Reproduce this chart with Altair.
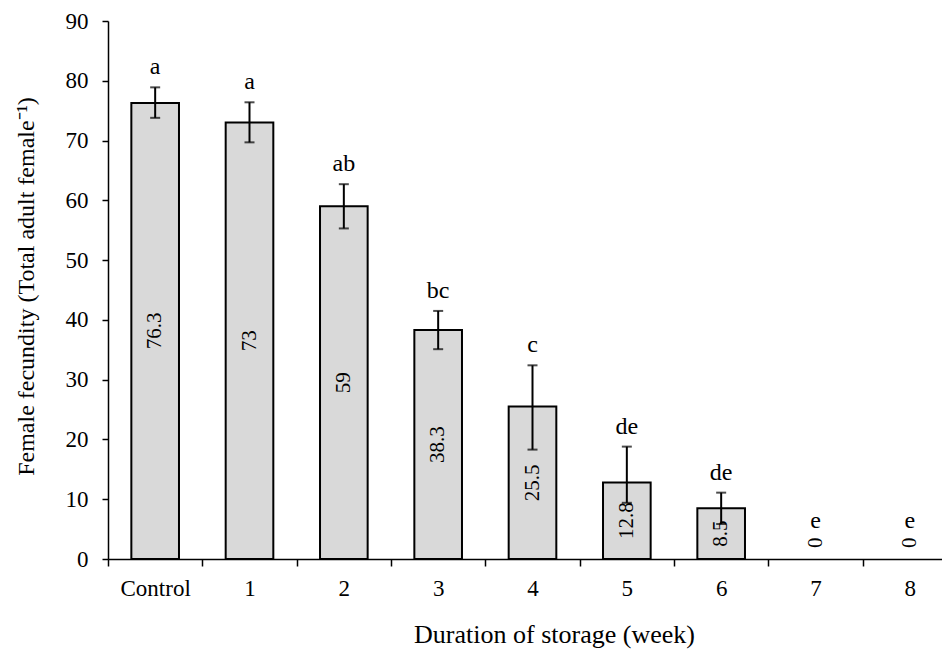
import altair as alt
import pandas as pd

categories = ["Control", "1", "2", "3", "4", "5", "6", "7", "8"]
means = [76.3, 73, 59, 38.3, 25.5, 12.8, 8.5, 0, 0]
err_upper = [78.9, 76.4, 62.7, 41.5, 32.4, 18.8, 11.1, None, None]
err_lower = [73.8, 69.7, 55.3, 35.1, 18.3, 9.4, 5.85, None, None]
letters = ["a", "a", "ab", "bc", "c", "de", "de", "e", "e"]
value_labels = ["76.3", "73", "59", "38.3", "25.5", "12.8", "8.5", "0", "0"]

df = pd.DataFrame({
    "cat": categories,
    "mean": means,
    "upper": err_upper,
    "lower": err_lower,
    "letter": letters,
    "vlabel": value_labels,
})

FONT = "Liberation Serif"

x_enc = alt.X(
    "cat:N",
    sort=categories,
    scale=alt.Scale(range=[0, 849], paddingInner=0, paddingOuter=0),
    axis=alt.Axis(
        title="Duration of storage (week)",
        labelAngle=0,
        tickBand="extent",
        domainColor="black", domainWidth=1.5,
        tickColor="black", tickWidth=1.5, tickSize=7,
        labelFont=FONT, labelFontSize=23, labelColor="black", labelPadding=11,
        titleFont=FONT, titleFontSize=26, titleFontWeight="normal", titleColor="black",
        titleX=446, titleY=83, titleAlign="center", titleBaseline="alphabetic",
    ),
)

y_scale = alt.Scale(domain=[0, 90], nice=False)

base = alt.Chart(df)

bars = base.transform_filter("datum.mean > 0").mark_bar(
    width=alt.RelativeBandSize(0.505), color="#d9d9d9", stroke="black", strokeWidth=2
).encode(
    x=x_enc,
    y=alt.Y(
        "mean:Q",
        scale=y_scale,
        axis=alt.Axis(
            title="Female fecundity (Total  adult  female⁻¹)",
            values=list(range(0, 91, 10)),
            grid=False,
            domainColor="black", domainWidth=1.5,
            tickColor="black", tickWidth=1.5, tickSize=6,
            labelFont=FONT, labelFontSize=23, labelColor="black", labelPadding=14,
            titleFont=FONT, titleFontSize=24, titleFontWeight="normal", titleColor="black",
            titleAngle=270, titleX=-82, titleY=265, titleAlign="center", titleBaseline="middle",
        ),
    ),
)

err = base.transform_filter("isValid(datum.upper)")

rules = err.mark_rule(color="black", strokeWidth=2).encode(
    x=alt.X("cat:N", sort=categories),
    y=alt.Y("lower:Q", scale=y_scale),
    y2="upper:Q",
)
cap_hi = err.mark_tick(color="black", size=10, thickness=2).encode(
    x=alt.X("cat:N", sort=categories),
    y=alt.Y("upper:Q", scale=y_scale),
)
cap_lo = err.mark_tick(color="black", size=10, thickness=2).encode(
    x=alt.X("cat:N", sort=categories),
    y=alt.Y("lower:Q", scale=y_scale),
)

letter_text = base.transform_calculate(
    ly="isValid(datum.upper) ? datum.upper : datum.mean + 3"
).mark_text(
    font=FONT, fontSize=24, color="black", baseline="alphabetic", dy=-13
).encode(
    x=alt.X("cat:N", sort=categories),
    y=alt.Y("ly:Q", scale=y_scale),
    text="letter:N",
)

value_text = base.transform_calculate(
    vy="max(datum.mean / 2, 2.7)"
).mark_text(
    font=FONT, fontSize=21, color="black", angle=270, align="center", baseline="middle"
).encode(
    x=alt.X("cat:N", sort=categories),
    y=alt.Y("vy:Q", scale=y_scale),
    text="vlabel:N",
)

chart = alt.layer(bars, rules, cap_hi, cap_lo, value_text, letter_text).properties(
    width=834,
    height=538,
    autosize=alt.AutoSizeParams(type="none"),
    padding={"left": 100, "top": 13, "right": 0, "bottom": 92},
    background="white",
).configure_view(strokeWidth=0)

chart.save("out.html", embed_options={"renderer": "svg", "actions": False})
